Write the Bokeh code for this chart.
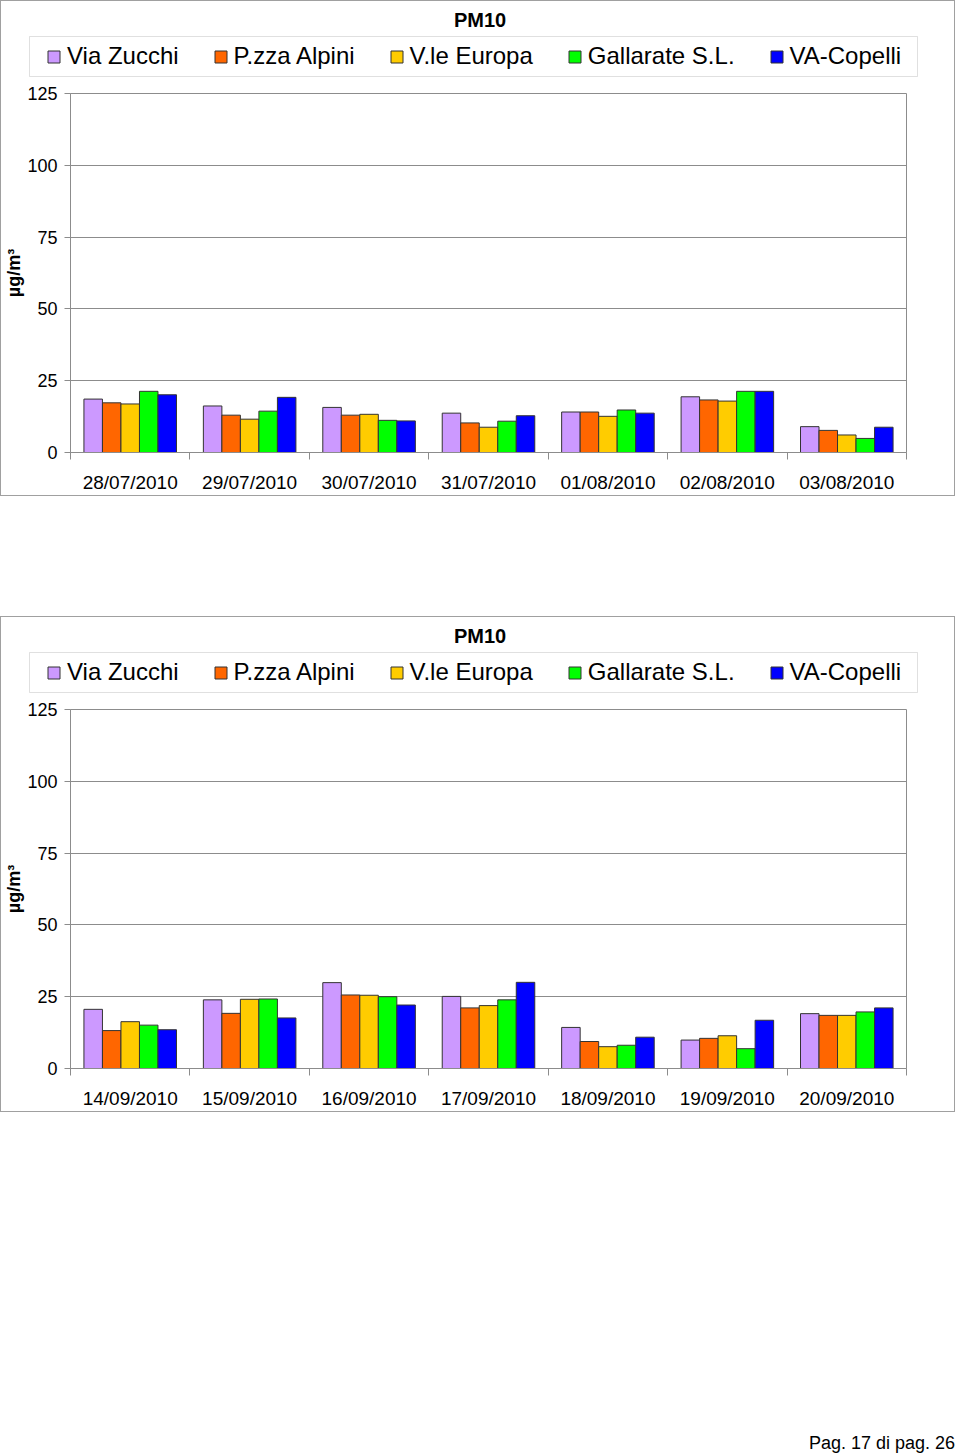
import numpy as np
from bokeh.plotting import figure
from bokeh.models import (Range1d, FixedTicker, Legend, LegendItem, Div, Spacer,
                          ColumnDataSource, Label, BoxAnnotation)
from bokeh.layouts import column, row
from bokeh.embed import file_html
from bokeh.resources import INLINE

series = ["Via Zucchi", "P.zza Alpini", "V.le Europa", "Gallarate S.L.", "VA-Copelli"]
colors = ["#CC99FF", "#FF6600", "#FFCC00", "#00FF00", "#0000FF"]
y_ticks = [0, 25, 50, 75, 100, 125]

# Chart 1
dates_1 = ["28/07/2010", "29/07/2010", "30/07/2010", "31/07/2010",
           "01/08/2010", "02/08/2010", "03/08/2010"]
via_zucchi_1 = [18.6, 16.2, 15.7, 13.7, 14.1, 19.4, 9.0]
pzza_alpini_1 = [17.3, 13.0, 13.0, 10.3, 14.1, 18.3, 7.7]
vle_europa_1 = [16.9, 11.6, 13.3, 8.8, 12.6, 17.9, 6.1]
gallarate_1 = [21.3, 14.4, 11.2, 10.9, 14.8, 21.3, 4.9]
va_copelli_1 = [20.1, 19.2, 11.0, 12.8, 13.7, 21.3, 8.8]

# Chart 2
dates_2 = ["14/09/2010", "15/09/2010", "16/09/2010", "17/09/2010",
           "18/09/2010", "19/09/2010", "20/09/2010"]
via_zucchi_2 = [20.6, 23.9, 29.9, 25.1, 14.3, 9.9, 19.1]
pzza_alpini_2 = [13.2, 19.2, 25.6, 21.1, 9.4, 10.5, 18.5]
vle_europa_2 = [16.3, 24.1, 25.5, 21.9, 7.6, 11.4, 18.5]
gallarate_2 = [15.1, 24.2, 25.0, 23.9, 8.1, 6.9, 19.7]
va_copelli_2 = [13.5, 17.6, 22.1, 30.0, 10.9, 16.8, 21.1]

FONT = "Liberation Sans"
GRAY = "#8c8c8c"
BOX = "1px solid #a0a0a0"
W = 955
HEAD_H = 79


def make_legend(renderers, location):
    return Legend(items=[LegendItem(label=s, renderers=[r]) for s, r in zip(series, renderers)],
                  orientation="horizontal", location=location,
                  label_text_font=FONT, label_text_font_size="24px",
                  label_text_color="black",
                  glyph_width=15, glyph_height=15, label_standoff=6,
                  spacing=34, padding=0, margin=0,
                  border_line_color=None, background_fill_color=None)


def make_header(title):
    h = figure(width=W, height=HEAD_H, x_range=Range1d(0, W), y_range=Range1d(0, HEAD_H),
               output_backend="svg", toolbar_location=None,
               x_axis_type=None, y_axis_type=None, min_border=0)
    h.grid.visible = False
    h.outline_line_color = None
    top = HEAD_H + 1
    h.add_layout(BoxAnnotation(left=28, right=916, bottom=top - 76, top=top - 36,
                               fill_color="white", fill_alpha=1.0,
                               line_color="#999999", line_width=1))
    # off-range renderers that only feed the legend swatches
    rs = [h.vbar(x=[-100], top=[1], width=1, fill_color=c, line_color="#333333", line_width=1)
          for c in colors]
    h.add_layout(make_legend(rs, (45, top - 70)))
    h.add_layout(Label(x=478.5, y=top - 19, text=title, text_align="center",
                       text_baseline="middle", text_font=FONT, text_font_size="20px",
                       text_font_style="bold", text_color="black"))
    h.styles = {"border-top": BOX, "border-left": BOX, "border-right": BOX}
    return h


def style_axes(p, dates, centers, n):
    xa = p.xaxis[0]
    xa.ticker = FixedTicker(ticks=[float(c) for c in centers],
                            minor_ticks=list(range(n + 1)))
    xa.major_label_overrides = {float(c): d for c, d in zip(centers, dates)}
    xa.major_tick_out = 0
    xa.major_tick_in = 0
    xa.major_tick_line_color = None
    xa.minor_tick_line_color = GRAY
    xa.minor_tick_out = 7
    xa.minor_tick_in = 0
    xa.axis_line_color = GRAY
    xa.major_label_text_font = FONT
    xa.major_label_text_font_size = "19px"
    xa.major_label_text_color = "black"
    xa.major_label_standoff = 12

    ya = p.yaxis[0]
    ya.ticker = FixedTicker(ticks=y_ticks)
    ya.minor_tick_line_color = None
    ya.major_tick_line_color = GRAY
    ya.major_tick_out = 6
    ya.major_tick_in = 0
    ya.axis_line_color = GRAY
    ya.major_label_text_font = FONT
    ya.major_label_text_font_size = "18px"
    ya.major_label_text_color = "black"
    ya.major_label_standoff = 7
    ya.axis_label = "µg/m³"
    ya.axis_label_text_font = FONT
    ya.axis_label_text_font_style = "bold"
    ya.axis_label_text_font_size = "18px"
    ya.axis_label_text_color = "black"
    ya.axis_label_standoff = 0

    p.xgrid.visible = False
    p.ygrid.grid_line_color = GRAY
    p.ygrid.ticker = FixedTicker(ticks=y_ticks)
    p.outline_line_color = GRAY


def add_bars(p, values, centers):
    bw = 0.155
    for k, (col, vals) in enumerate(zip(colors, values)):
        src = ColumnDataSource(dict(x=centers + (k - 2) * bw, top=vals))
        p.vbar(x="x", top="top", width=bw, source=src, fill_color=col,
               line_color="#333333", line_width=1)


def make_chart(dates, values):
    n = len(dates)
    p = figure(width=W, height=496 - HEAD_H, x_range=Range1d(0, n), y_range=Range1d(0, 125),
               output_backend="svg", toolbar_location=None,
               min_border_left=67, min_border_right=50, min_border_top=93 - HEAD_H,
               min_border_bottom=44)
    centers = np.arange(n) + 0.5
    add_bars(p, values, centers)
    style_axes(p, dates, centers, n)
    p.styles = {"border-bottom": BOX, "border-left": BOX, "border-right": BOX}
    return p


h1 = make_header("PM10")
p1 = make_chart(dates_1, [via_zucchi_1, pzza_alpini_1, vle_europa_1, gallarate_1, va_copelli_1])
h2 = make_header("PM10")
p2 = make_chart(dates_2, [via_zucchi_2, pzza_alpini_2, vle_europa_2, gallarate_2, va_copelli_2])

footer = Div(text="Pag. 17 di pag. 26", width=950, height=22,
             styles={"text-align": "right", "font-family": FONT, "font-size": "18px",
                     "color": "black"})

layout = column(row(h1), p1, Spacer(width=W, height=120), row(h2), p2,
                Spacer(width=W, height=314), footer)

open("out.html", "w").write(file_html(layout, INLINE))
